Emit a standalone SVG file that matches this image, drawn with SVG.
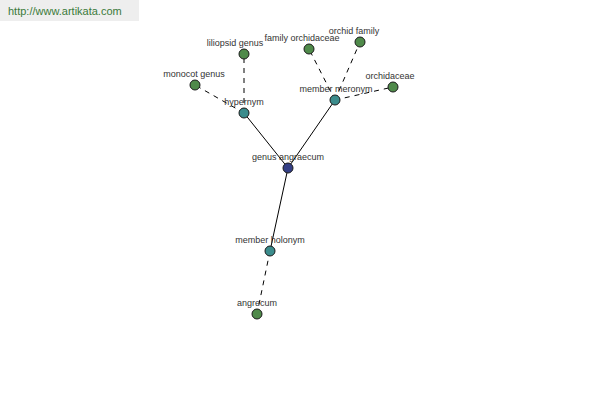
<svg xmlns="http://www.w3.org/2000/svg" width="600" height="400" viewBox="0 0 600 400">
<style>
.lbl{font-family:"Liberation Sans",Arial,sans-serif;font-size:9px;fill:#333;text-anchor:middle}
.solid{stroke:#000;stroke-width:1;fill:none}
.dash{stroke:#000;stroke-width:1;fill:none;stroke-dasharray:5,5}
.n{stroke:#1a1a1a;stroke-width:1}
.c{fill:#343f85}
.t{fill:#3b8c8c}
.g{fill:#4f8a4a}
</style>
<rect x="0" y="0" width="139" height="21" fill="#eeeeee"/>
<text x="8" y="15" font-family="'Liberation Sans',Arial,sans-serif" font-size="11" fill="#3a7a3a">http://www.artikata.com</text>
<g id="connectors">
<line class="solid" x1="288" y1="168" x2="244" y2="113"/>
<line class="solid" x1="288" y1="168" x2="335" y2="100"/>
<line class="solid" x1="288" y1="168" x2="270" y2="251"/>
<line class="dash" x1="244" y1="113" x2="244" y2="54"/>
<line class="dash" x1="244" y1="113" x2="195" y2="85"/>
<line class="dash" x1="335" y1="100" x2="309" y2="49"/>
<line class="dash" x1="335" y1="100" x2="360" y2="42"/>
<line class="dash" x1="335" y1="100" x2="393" y2="87"/>
<line class="dash" x1="270" y1="251" x2="257" y2="314"/>
</g>
<g id="genus-angraecum"><circle class="n c" cx="288" cy="168" r="5"/><text class="lbl" x="288" y="160">genus angraecum</text></g>
<g id="hypernym"><circle class="n t" cx="244" cy="113" r="5"/><text class="lbl" x="244" y="105">hypernym</text></g>
<g id="member-meronym"><circle class="n t" cx="335" cy="100" r="5"/><text class="lbl" x="336" y="92">member meronym</text></g>
<g id="member-holonym"><circle class="n t" cx="270" cy="251" r="5"/><text class="lbl" x="270" y="243">member holonym</text></g>
<g id="liliopsid-genus"><circle class="n g" cx="244" cy="54" r="5"/><text class="lbl" x="235" y="46">liliopsid genus</text></g>
<g id="monocot-genus"><circle class="n g" cx="195" cy="85" r="5"/><text class="lbl" x="194" y="77">monocot genus</text></g>
<g id="family-orchidaceae"><circle class="n g" cx="309" cy="49" r="5"/><text class="lbl" x="302" y="41">family orchidaceae</text></g>
<g id="orchid-family"><circle class="n g" cx="360" cy="42" r="5"/><text class="lbl" x="354" y="34">orchid family</text></g>
<g id="orchidaceae"><circle class="n g" cx="393" cy="87" r="5"/><text class="lbl" x="390" y="79">orchidaceae</text></g>
<g id="angrecum"><circle class="n g" cx="257" cy="314" r="5"/><text class="lbl" x="257" y="306">angrecum</text></g>
</svg>
